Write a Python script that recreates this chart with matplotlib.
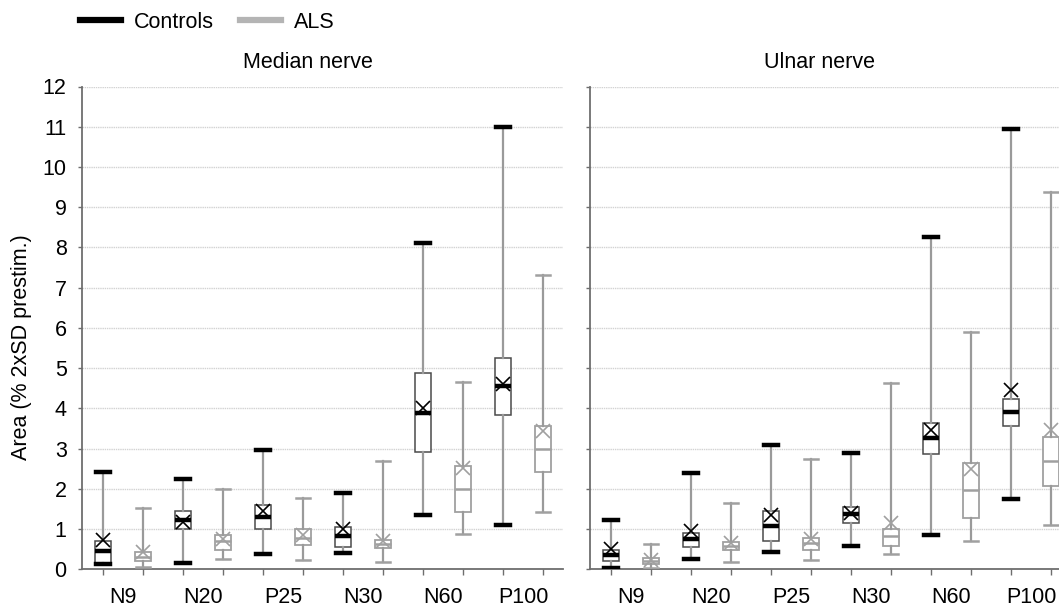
import matplotlib
matplotlib.use("Agg")
import matplotlib.pyplot as plt
from matplotlib.lines import Line2D

plt.rcParams['font.family'] = ['Liberation Sans', 'DejaVu Sans']

categories = ["N9", "N20", "P25", "N30", "N60", "P100"]
panels = ["Median nerve", "Ulnar nerve"]

# Median nerve - Controls
med_ctrl_lo   = [0.14, 0.16, 0.37, 0.41, 1.35, 1.10]
med_ctrl_q1   = [0.15, 0.99, 0.99, 0.56, 2.92, 3.83]
med_ctrl_med  = [0.45, 1.22, 1.30, 0.83, 3.89, 4.55]
med_ctrl_q3   = [0.71, 1.45, 1.61, 1.06, 4.87, 5.26]
med_ctrl_hi   = [2.41, 2.24, 2.96, 1.89, 8.10, 11.00]
med_ctrl_mean = [0.73, 1.18, 1.44, 0.99, 4.02, 4.60]
# Median nerve - ALS
med_als_lo   = [0.05, 0.25, 0.22, 0.17, 0.87, 1.43]
med_als_q1   = [0.21, 0.49, 0.60, 0.52, 1.42, 2.43]
med_als_med  = [0.31, 0.71, 0.79, 0.62, 1.99, 3.00]
med_als_q3   = [0.42, 0.86, 0.99, 0.73, 2.57, 3.56]
med_als_hi   = [1.52, 1.99, 1.78, 2.69, 4.66, 7.31]
med_als_mean = [0.42, 0.76, 0.85, 0.71, 2.52, 3.44]
# Ulnar nerve - Controls
uln_ctrl_lo   = [0.04, 0.25, 0.44, 0.57, 0.86, 1.74]
uln_ctrl_q1   = [0.20, 0.55, 0.71, 1.15, 2.86, 3.57]
uln_ctrl_med  = [0.36, 0.75, 1.08, 1.38, 3.26, 3.91]
uln_ctrl_q3   = [0.47, 0.90, 1.44, 1.55, 3.63, 4.24]
uln_ctrl_hi   = [1.23, 2.40, 3.10, 2.90, 8.25, 10.95]
uln_ctrl_mean = [0.50, 0.96, 1.36, 1.40, 3.46, 4.45]
# Ulnar nerve - ALS
uln_als_lo   = [0.03, 0.19, 0.22, 0.38, 0.71, 1.09]
uln_als_q1   = [0.13, 0.47, 0.48, 0.57, 1.28, 2.07]
uln_als_med  = [0.21, 0.58, 0.65, 0.82, 1.96, 2.70]
uln_als_q3   = [0.28, 0.68, 0.79, 1.01, 2.63, 3.28]
uln_als_hi   = [0.62, 1.64, 2.73, 4.62, 5.89, 9.39]
uln_als_mean = [0.23, 0.65, 0.76, 1.15, 2.50, 3.45]

yticks = list(range(0, 13))

def stats(lo, q1, med, q3, hi, mean):
    return [dict(whislo=a, q1=b, med=c, q3=d, whishi=e, mean=f, fliers=[])
            for a, b, c, d, e, f in zip(lo, q1, med, q3, hi, mean)]

data = [
    (stats(med_ctrl_lo, med_ctrl_q1, med_ctrl_med, med_ctrl_q3, med_ctrl_hi, med_ctrl_mean),
     stats(med_als_lo, med_als_q1, med_als_med, med_als_q3, med_als_hi, med_als_mean)),
    (stats(uln_ctrl_lo, uln_ctrl_q1, uln_ctrl_med, uln_ctrl_q3, uln_ctrl_hi, uln_ctrl_mean),
     stats(uln_als_lo, uln_als_q1, uln_als_med, uln_als_q3, uln_als_hi, uln_als_mean)),
]

W, H = 1059, 606
fig = plt.figure(figsize=(W / 100, H / 100), dpi=100)

ax_bottom = 1 - 569.3 / H
ax_h = (569.3 - 86.5) / H
ax_w = 481 / W
lefts = [82 / W, 590 / W]

CTRL = '#000000'
ALS = '#a0a0a0'
WHISK = '#9a9a9a'
SPINE = '#6e6e6e'
FS = 15.5

axes = []
for p, (ctrl, als) in enumerate(data):
    ax = fig.add_axes([lefts[p], ax_bottom, ax_w, ax_h])
    axes.append(ax)
    n = len(categories)
    pos_c = [2 * i for i in range(n)]
    pos_a = [2 * i + 1 for i in range(n)]
    ax.bxp(ctrl, positions=pos_c, widths=0.4, capwidths=0.33, showmeans=True,
           showfliers=False, patch_artist=True,
           boxprops=dict(facecolor='white', edgecolor='#4a4a4a', linewidth=1.1),
           whiskerprops=dict(color=WHISK, linewidth=1.6),
           capprops=dict(color=CTRL, linewidth=3.2),
           medianprops=dict(color=CTRL, linewidth=3.2),
           meanprops=dict(marker='x', markeredgecolor=CTRL, markersize=10,
                          markeredgewidth=1.2), zorder=3)
    ax.bxp(als, positions=pos_a, widths=0.4, capwidths=0.33, showmeans=True,
           showfliers=False, patch_artist=True,
           boxprops=dict(facecolor='white', edgecolor=ALS, linewidth=1.3),
           whiskerprops=dict(color=WHISK, linewidth=1.6),
           capprops=dict(color=ALS, linewidth=1.8),
           medianprops=dict(color=ALS, linewidth=1.8),
           meanprops=dict(marker='x', markeredgecolor=ALS, markersize=10,
                          markeredgewidth=1.2), zorder=3)
    ax.set_xlim(-0.525, 2 * n - 0.5)
    ax.set_ylim(0, 12)
    ax.set_yticks(yticks)
    ax.yaxis.grid(True, color='#d2d2d2', linewidth=1.0, linestyle=(0, (1, 0.6)))
    ax.set_axisbelow(True)
    ax.set_xticks(list(range(2 * n)))
    ax.set_xticklabels([])
    ax.set_xticks([2 * i + 0.5 for i in range(n)], minor=True)
    ax.set_xticklabels(categories, minor=True, fontsize=FS)
    ax.tick_params(axis='x', which='major', length=4, width=1, color=SPINE, direction='out')
    ax.tick_params(axis='x', which='minor', length=0, pad=12.5)
    ax.tick_params(axis='y', length=3, width=1, color=SPINE, direction='out', pad=8,
                   labelsize=FS)
    if p == 1:
        ax.set_yticklabels([])
    for s in ['top', 'right']:
        ax.spines[s].set_visible(False)
    for s in ['left', 'bottom']:
        ax.spines[s].set_color(SPINE)
        ax.spines[s].set_linewidth(1.3)

fig.text(308 / W, 1 - 63 / H, panels[0], ha='center', va='center', fontsize=FS)
fig.text(820 / W, 1 - 63 / H, panels[1], ha='center', va='center', fontsize=FS)
fig.text(22 / W, 1 - 347 / H, "Area (% 2xSD prestim.)", rotation=90,
         ha='center', va='center', fontsize=15.5)

handles = [Line2D([], [], color='black', linewidth=4.5),
           Line2D([], [], color='#b4b4b4', linewidth=4.5)]
fig.legend(handles, ["Controls", "ALS"], loc='center left',
           bbox_to_anchor=(80 / W, 1 - 22 / H), ncol=2, frameon=False,
           fontsize=FS, handlelength=1.9, handletextpad=0.6, columnspacing=1.2,
           borderaxespad=0, borderpad=0)

fig.savefig("out.png", dpi=100)
